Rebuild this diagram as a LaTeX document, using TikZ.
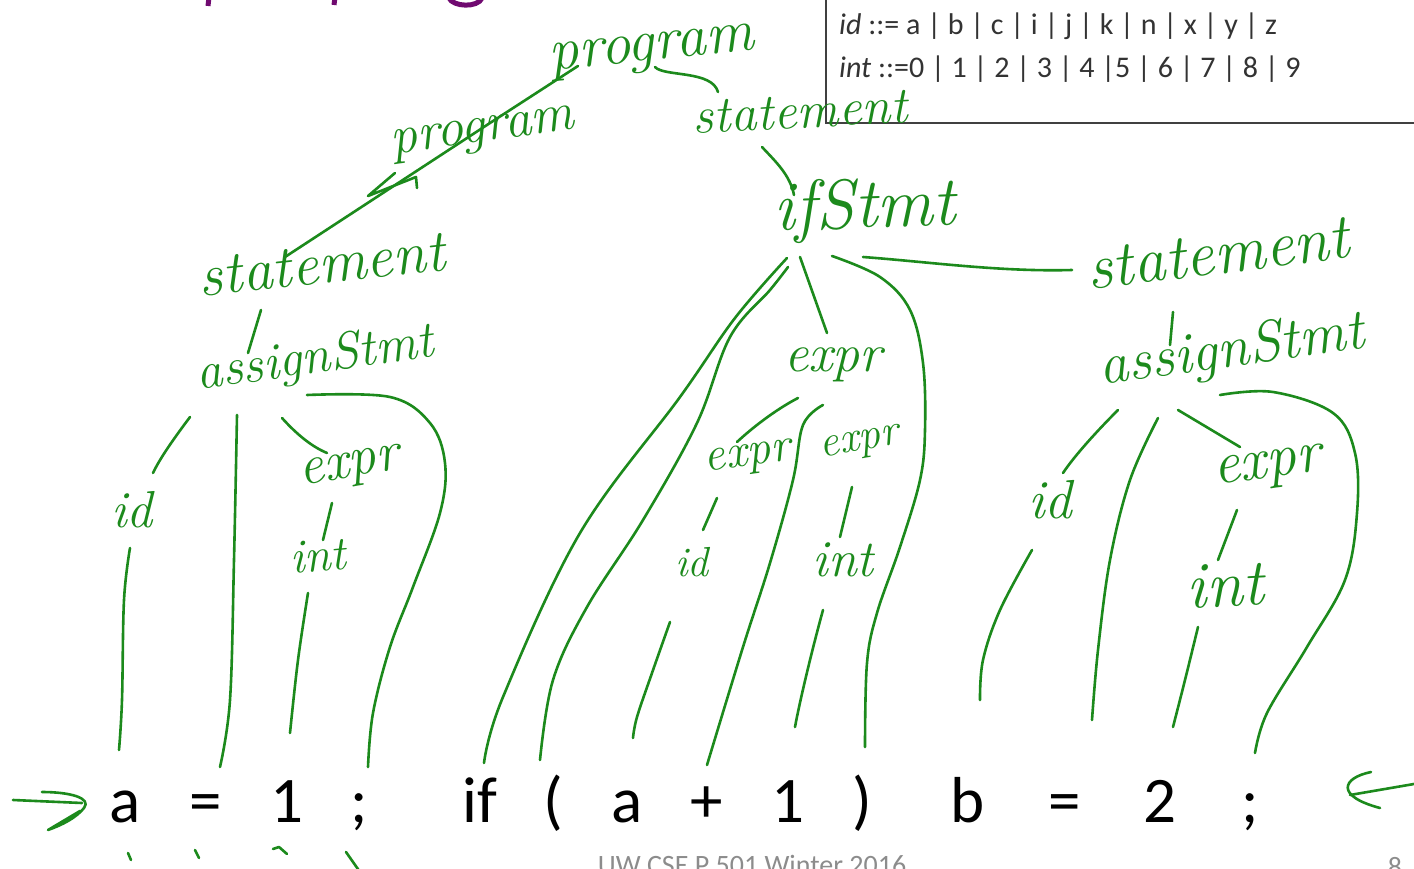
\documentclass[tikz,border=0pt]{standalone}
\usepackage{fontspec}
\newfontfamily\slidefont{Carlito}
\usetikzlibrary{calc}
\definecolor{ink}{RGB}{28,138,28}
\definecolor{titlepurple}{RGB}{112,10,112}
\definecolor{footgray}{RGB}{140,140,140}
\tikzset{
  hw/.style={font=\fontsize{#1}{#1}\selectfont\itshape, text=ink, inner sep=0pt},
  edge/.style={draw=ink, line width=2.6pt, line cap=round, line join=round},
  scrib/.style={draw=ink, line width=2.6pt, line cap=round, line join=round},
  tok/.style={font=\slidefont\fontsize{65}{65}\selectfont, anchor=base, inner sep=0pt, text=black},
  gram/.style={font=\slidefont\fontsize{30}{30}\selectfont, anchor=base west, inner sep=0pt, text=black!80},
  foot/.style={font=\slidefont\fontsize{28}{28}\selectfont, anchor=base, inner sep=0pt, text=footgray},
}
\begin{document}
\begin{tikzpicture}[x=1pt,y=-1pt]
\useasboundingbox (0,0) rectangle (1414,869);
\clip (0,0) rectangle (1414,869);
\fill[white] (0,0) rectangle (1414,869);

% clipped title descenders
\draw[titlepurple, line width=5pt] (209,-3) -- (208,6);
\draw[titlepurple, line width=5pt] (335,-3) -- (334,5);
\draw[titlepurple, line width=5pt] (449,-2) .. controls (453,7) and (478,8) .. (482,-2);

% grammar box
\draw[line width=1.8pt, draw=black!75, fill=white] (826,-5) rectangle (1430,123);
\node[gram] (g1) at (839,35) {\textit{id} ::= a | b | c | i | j | k | n | x | y | z};
\node[gram] (g2) at (839,78) {\textit{int} ::=0 | 1 | 2 | 3 | 4 |5 | 6 | 7 | 8 | 9};

% code tokens
\node[tok] (tA) at (125,822) {a};
\node[tok] (tEq) at (206,822) {=};
\node[tok] (tOne) at (287,822) {1};
\node[tok] (tSemi) at (359,822) {;};
\node[tok] (tIf) at (480,822) {if};
\node[tok] (tLp) at (553,822) {(};
\node[tok] (tA2) at (627,822) {a};
\node[tok] (tPlus) at (707,822) {+};
\node[tok] (tOne2) at (788,822) {1};
\node[tok] (tRp) at (862,822) {)};
\node[tok] (tB) at (968,822) {b};
\node[tok] (tEq2) at (1065,822) {=};
\node[tok] (tTwo) at (1160,822) {2};
\node[tok] (tSemi2) at (1250,822) {;};

% footer
\node[foot] (footer) at (752,874) {UW CSE P 501 Winter 2016};
\node[foot] (pageno) at (1395,876) {8};

% handwritten labels
\node[hw=60, rotate=6] (progT) at (652,53) {program};
\node[hw=54, rotate=8] (progL) at (483,135) {program};
\node[hw=52, rotate=3] (stmtT) at (800,112) {statement};
\node[hw=70, rotate=2] (ifS) at (865,210) {ifStmt};
\node[hw=60, rotate=6] (stmtL) at (322,265) {statement};
\node[hw=64, rotate=7] (stmtR) at (1218,254) {statement};
\node[hw=52, rotate=8] (asgL) at (315,360) {assignStmt};
\node[hw=58, rotate=8] (asgR) at (1232,352) {assignStmt};
\node[hw=54] (exprI) at (833,365) {expr};
\node[hw=52] (idL) at (132,510) {id};
\node[hw=56, rotate=10] (exprL) at (350,470) {expr};
\node[hw=48, rotate=5] (intL) at (318,556) {int};
\node[hw=48, rotate=8] (exprIL) at (748,460) {expr};
\node[hw=44, rotate=10] (exprIR) at (860,445) {expr};
\node[hw=42] (idI) at (692,562) {id};
\node[hw=52] (intI) at (843,560) {int};
\node[hw=55] (idR) at (1050,500) {id};
\node[hw=60, rotate=8] (exprR) at (1268,470) {expr};
\node[hw=66, rotate=3] (intR) at (1225,585) {int};

% top of the tree
\draw[edge] ($(progT)+(-74,13)$) -- ($(progL)+(7,-12)$);
\draw[edge] ($(progL)+(7,-12)$) -- ($(stmtL)+(-37,-8)$);
\draw[scrib] ($(progL)+(-88,38)$) -- ++(-27,23) -- ++(48,-19) -- ++(1,11);
\draw[edge] ($(progT)+(3,14)$) .. controls (664,77) and (712,70) .. ($(stmtT)+(-82,-20)$);
\draw[edge] ($(stmtT)+(-38,35)$) .. controls (776,162) and (790,175) .. ($(ifS)+(-71,-15)$);

% ifStmt children
\draw[edge] plot[smooth, tension=0.6] coordinates {($(ifS)+(-78,48)$) (735,318) (680,397) (580,533) (503,697) ($(tIf.base)+(4,-59)$)};
\draw[edge] plot[smooth, tension=0.6] coordinates {($(ifS)+(-77,57)$) (770,290) (730,337) (697,423) (643,520) (587,607) (553,680) ($(tLp.base)+(-13,-62)$)};
\draw[edge] ($(ifS)+(-65,47)$) -- ($(exprI)+(-6,-32)$);
\draw[edge] plot[smooth, tension=0.6] coordinates {($(ifS)+(-33,46)$) (880,277) (910,310) (923,363) (925,430) (920,480) (900,547) (877,613) (867,663) ($(tRp.base)+(3,-75)$)};
\draw[edge] ($(ifS)+(-2,47)$) .. controls (930,262) and (1000,272) .. ($(stmtR)+(-146,16)$);

% expr in the condition
\draw[edge] ($(exprI)+(-35,33)$) .. controls (775,410) and (752,428) .. ($(exprIL)+(-11,-18)$);
\draw[edge] plot[smooth, tension=0.6] coordinates {($(exprI)+(-10,40)$) (803,425) (793,480) (770,563) (743,647) ($(tPlus.base)+(0,-57)$)};
\draw[edge] ($(exprIL)+(-31,38)$) -- ($(idI)+(11,-32)$);
\draw[edge] plot[smooth, tension=0.6] coordinates {($(idI)+(-22,60)$) (652,673) (637,717) ($(tA2.base)+(6,-84)$)};
\draw[edge] ($(exprIR)+(-8,42)$) -- ($(intI)+(-3,-23)$);
\draw[edge] ($(intI)+(-20,50)$) .. controls (812,650) and (800,700) .. ($(tOne2.base)+(7,-95)$);

% left statement
\draw[edge] ($(stmtL)+(-61,45)$) -- ($(asgL)+(-67,-7)$);
\draw[edge] ($(asgL)+(-125,57)$) .. controls (175,437) and (160,458) .. ($(idL)+(21,-37)$);
\draw[edge] plot[smooth, tension=0.6] coordinates {($(idL)+(-2,38)$) (124,600) (122,700) ($(tA.base)+(-6,-72)$)};
\draw[edge] plot[smooth, tension=0.6] coordinates {($(asgL)+(-78,55)$) (234,560) (230,700) ($(tEq.base)+(14,-55)$)};
\draw[edge] ($(asgL)+(-33,58)$) .. controls (300,438) and (315,448) .. ($(exprL)+(-23,-17)$);
\draw[edge] ($(exprL)+(-18,33)$) -- ($(intL)+(5,-16)$);
\draw[edge] plot[smooth, tension=0.6] coordinates {($(intL)+(-10,37)$) (298,660) ($(tOne.base)+(3,-89)$)};
\draw[edge] plot[smooth, tension=0.6] coordinates {($(asgL)+(-8,35)$) (390,397) (430,423) (445,463) (440,513) (413,587) (390,647) (373,713) ($(tSemi.base)+(9,-55)$)};

% right statement
\draw[edge] ($(stmtR)+(-45,58)$) -- ($(asgR)+(-62,-7)$);
\draw[edge] ($(asgR)+(-114,58)$) .. controls (1098,430) and (1075,455) .. ($(idR)+(13,-27)$);
\draw[edge] plot[smooth, tension=0.6] coordinates {($(idR)+(-18,50)$) (1000,610) (983,660) ($(tB.base)+(12,-122)$)};
\draw[edge] plot[smooth, tension=0.6] coordinates {($(asgR)+(-74,66)$) (1130,480) (1110,560) (1098,650) ($(tEq2.base)+(27,-102)$)};
\draw[edge] ($(asgR)+(-54,58)$) -- ($(exprR)+(-28,-23)$);
\draw[edge] ($(exprR)+(-31,40)$) -- ($(intR)+(-7,-25)$);
\draw[edge] plot[smooth, tension=0.6] coordinates {($(intR)+(-27,42)$) (1185,680) ($(tTwo.base)+(13,-95)$)};
\draw[edge] plot[smooth, tension=0.6] coordinates {($(asgR)+(-12,43)$) (1273,392) (1333,413) (1355,453) (1357,513) (1345,580) (1307,647) (1267,713) ($(tSemi2.base)+(5,-69)$)};

% pointer marks beside the code
\draw[scrib] ($(tA.base)+(-112,-22)$) -- ($(tA.base)+(-43,-19)$);
\draw[scrib] ($(tA.base)+(-83,-30)$) .. controls (70,792) and (92,798) .. (84,808) .. controls (76,818) and (62,825) .. (48,830) -- (80,811);
\draw[scrib] ($(tSemi2.base)+(121,-50)$) .. controls (1342,778) and (1335,796) .. (1380,808);
\draw[scrib] ($(tSemi2.base)+(100,-27)$) -- (1414,784);

% ticks below the code
\draw[scrib] ($(tA.base)+(3,31)$) -- ++(3,7);
\draw[scrib] ($(tEq.base)+(-11,28)$) -- ++(4,8);
\draw[scrib] ($(tOne.base)+(-14,27)$) -- ++(6,-2) -- ++(8,7);
\draw[scrib] ($(tSemi.base)+(-13,30)$) -- ++(14,20);
\end{tikzpicture}
\end{document}
